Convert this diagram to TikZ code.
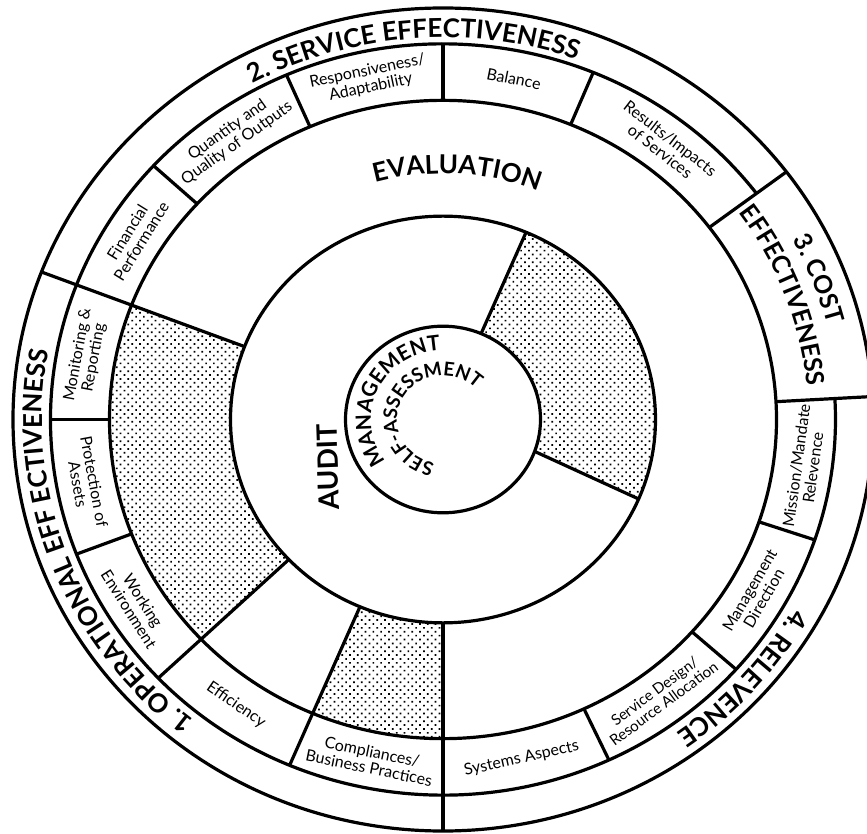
\documentclass[tikz,border=0pt]{standalone}
\usepackage{fontspec}
\setmainfont{Lato}
\usetikzlibrary{decorations.text, patterns.meta}

\tikzstyle{ring} = [line width=3.2pt]
\tikzstyle{divide} = [line width=3.2pt]
\tikzstyle{dotfill} = [pattern={Dots[angle=45, distance=5.5pt, radius=1.2pt]}]
\tikzstyle{item} = [font=\fontsize{16}{16.5}\selectfont, align=center, inner sep=0pt]
\newcommand{\ringfont}{\fontsize{26}{28}\bfseries\selectfont}
\newcommand{\costfont}{\fontsize{25}{27}\bfseries\selectfont}
\newcommand{\evalfont}{\fontsize{26}{28}\bfseries\selectfont}
\newcommand{\corefont}{\fontsize{21}{23}\bfseries\selectfont}
\newcommand{\selffont}{\fontsize{19}{21}\bfseries\selectfont}

\begin{document}
\begin{tikzpicture}[x=1pt, y=0.957pt]
    \useasboundingbox (-443,-433.1) rectangle (424,438.35);
    \fill[dotfill] (159:212.5) arc[start angle=159, end angle=223.5, radius=212.5] -- (223.5:333.5) arc[start angle=223.5, end angle=159, radius=333.5] -- cycle;
    \fill[dotfill] (247:212.5) arc[start angle=247, end angle=270, radius=212.5] -- (270:333.5) arc[start angle=270, end angle=247, radius=333.5] -- cycle;
    \fill[dotfill] (-20:97.5) arc[start angle=-20, end angle=67, radius=97.5] -- (67:212.5) arc[start angle=67, end angle=-23, radius=212.5] -- cycle;

    \draw[ring] (0,0) circle[radius=97.5];
    \draw[ring] (0,0) circle[radius=212.5];
    \draw[ring] (0,0) circle[radius=333.5];
    \draw[ring] (0,0) circle[radius=430];
    \draw[ring] (37:392.5) arc[start angle=37, end angle=363.2, radius=392.5];

    \foreach \a in {159, 270} \draw[divide] (\a:212.5) -- (\a:430);
    \foreach \a in {223.5, 247} \draw[divide] (\a:212.5) -- (\a:392.5);
    \foreach \a in {3.2, 37} \draw[divide] (\a:333.5) -- (\a:430);
    \foreach \a in {67.5, 90, 113.5, 137.5, 180, 201, -18.7, -41.7, -65} \draw[divide] (\a:333.5) -- (\a:392.5);
    \draw[divide] (67:97.5) -- (67:212.5);
    \draw[divide] (-20:97.5) -- (-23:212.5);

    \node[item, rotate=-11.25] (balance) at (78.75:363) {Balance};
    \node[item, rotate=11.75] (respons) at (101.75:363) {Responsiveness/\\Adaptability};
    \node[item, rotate=35.5] (quantity) at (125.5:363) {Quantity and\\Quality of Outputs};
    \node[item, rotate=58.25] (finance) at (148.25:363) {Financial\\Performance};
    \node[item, rotate=79.5] (monitor) at (169.5:363) {Monitoring \&\\Reporting};
    \node[item, rotate=-79.5] (protect) at (190.5:363) {Protection of\\Assets};
    \node[item, rotate=-57.75] (working) at (212.25:363) {Working\\Environment};
    \node[item, rotate=-34.75] (effic) at (235.25:363) {Efficiency};
    \node[item, rotate=-11.5] (comply) at (258.5:363) {Compliances/\\Business Practices};
    \node[item, rotate=12.5] (systems) at (282.5:363) {Systems Aspects};
    \node[item, font=\fontsize{15}{15.5}\selectfont, rotate=36.65] (design) at (306.65:362) {Service Design/\\Resource Allocation};
    \node[item, rotate=59.8] (direct) at (329.8:363) {Management\\Direction};
    \node[item, rotate=82.25] (mission) at (352.25:365) {Mission/Mandate\\Relevence};
    \node[item, rotate=-37.75] (results) at (52.25:363) {Results/Impacts\\of Services};

    \path[decorate, decoration={text along path, text align=center, text={|\ringfont|2. SERVICE EFFECTIVENESS}}] (144.5:399) arc[start angle=144.5, end angle=44.5, radius=399];
    \path[decorate, decoration={text along path, text align=center, text={|\ringfont|1. OPERATIONAL EFF ECTIVENESS}}] (250.4:401) arc[start angle=250.4, end angle=150.4, radius=401];
    \path[decorate, decoration={text along path, text align=center, text={|\costfont|3. COST}}] (61:397) arc[start angle=61, end angle=-19, radius=397];
    \path[decorate, decoration={text along path, text align=center, text={|\costfont|EFFECTIVENESS}}] (60.5:366) arc[start angle=60.5, end angle=-19.5, radius=366];
    \path[decorate, decoration={text along path, text align=center, text={|\ringfont|4. RELEVENCE}}] (-1.5:402) arc[start angle=-1.5, end angle=-81.5, radius=402];
    \path[decorate, decoration={text along path, text align=center, text={|\evalfont|EVALUATION}}] (136.75:257) arc[start angle=136.75, end angle=36.75, radius=257];
    \path[decorate, decoration={text along path, text align=center, text={|\corefont|MANAGEMENT}}] (244.75:72) arc[start angle=244.75, end angle=64.75, radius=72];
    \path[decorate, decoration={text along path, text align=center, text={|\selffont|SELF-ASSESSMENT}}] (281.3:46) arc[start angle=281.3, end angle=21.3, radius=46];

    \node[font=\fontsize{28}{30}\bfseries\selectfont, rotate=92] (audit) at (-115,-49.6) {AUDIT};
\end{tikzpicture}
\end{document}
